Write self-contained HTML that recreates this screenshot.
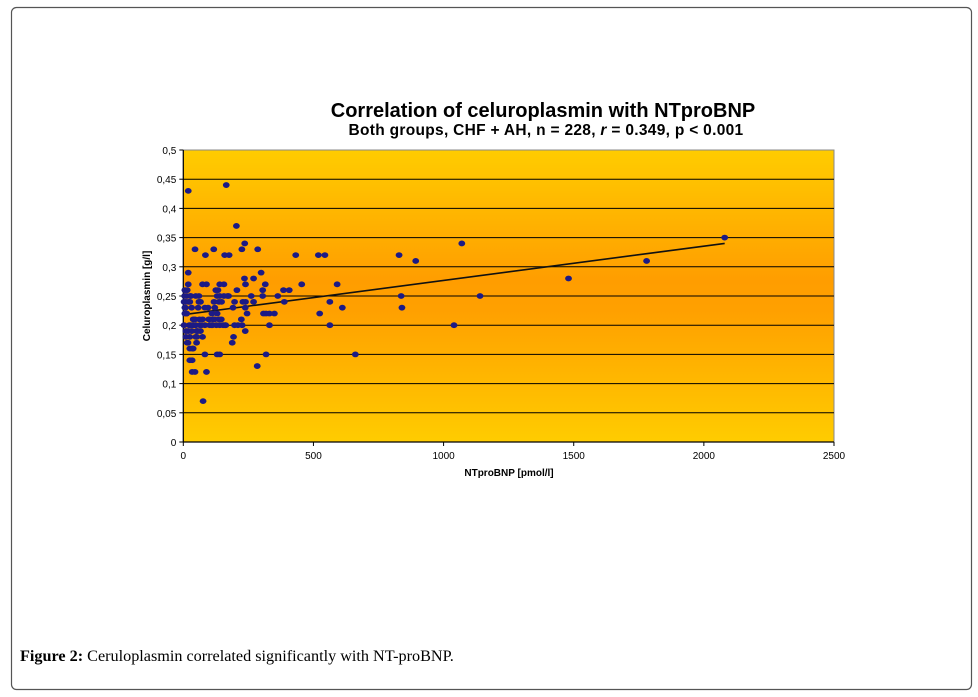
<!DOCTYPE html>
<html><head><meta charset="utf-8"><style>
body{margin:0;background:#fff;}
svg{display:block;font-family:"Liberation Sans",Arial,sans-serif;}
</style></head><body>
<svg id="chart" width="978" height="697" viewBox="0 0 978 697" xmlns="http://www.w3.org/2000/svg">
<defs>
<linearGradient id="bg" x1="0" y1="0" x2="0" y2="1">
<stop offset="0" stop-color="#FFCC00"/>
<stop offset="0.45" stop-color="#FF9D00"/>
<stop offset="0.55" stop-color="#FFA000"/>
<stop offset="1" stop-color="#FFCC00"/>
</linearGradient>
</defs>
<rect x="11.5" y="7.5" width="960" height="682" rx="5" fill="#fff" stroke="#555" stroke-width="1.2"/>
<text x="543" y="117" text-anchor="middle" font-size="20" font-weight="bold">Correlation of celuroplasmin with NTproBNP</text>
<text x="546" y="135" text-anchor="middle" font-size="15.5" font-weight="bold" letter-spacing="0.3">Both groups, CHF + AH,  n = 228, <tspan font-style="italic">r</tspan> = 0.349, p &lt; 0.001</text>
<rect x="183.3" y="150" width="650.7" height="292" fill="url(#bg)" stroke="#888" stroke-width="1"/>
<g id="grid"></g>
<g id="axes"></g>
<g id="trend"></g>
<g id="points"></g>
<text transform="translate(150,296) rotate(-90)" text-anchor="middle" font-size="10" font-weight="bold">Celuroplasmin [g/l]</text>
<text x="509" y="476" text-anchor="middle" font-size="10" font-weight="bold">NTproBNP [pmol/l]</text>
<text x="20" y="661" font-size="16.2" font-family="'Liberation Serif',serif"><tspan font-weight="bold">Figure 2:</tspan> Ceruloplasmin correlated significantly with NT-proBNP.</text>
</svg>
<script>
const yTicks=[0,0.05,0.1,0.15,0.2,0.25,0.3,0.35,0.4,0.45,0.5];
const yTickLabels=["0","0,05","0,1","0,15","0,2","0,25","0,3","0,35","0,4","0,45","0,5"];
const xTicks=[0,500,1000,1500,2000,2500];
const xTickLabels=["0","500","1000","1500","2000","2500"];
const ntprobnp=[19,165,204,45,117,85,159,176,225,236,286,432,519,544,829,893,2080,1070,1780,1480,1140,1040,
19,299,19,74,89,140,156,239,315,455,591,235,270,6,125,206,305,385,407,
13,29,48,60,130,140,156,174,261,305,363,837,10,25,66,118,137,197,229,239,270,388,563,
6,32,57,83,121,191,238,611,840,6,13,130,245,308,318,331,350,524,38,74,98,114,137,146,223,
23,36,48,64,83,102,112,127,140,153,163,197,210,226,331,563,19,32,51,66,238,10,25,48,74,193,
15,51,188,25,38,83,130,140,318,661,25,34,284,34,45,89,76,
3,5,8,12,15,20,27,40,45,55,62,100,108,120,133,147,160,170,28,60,95,110,3,10,18,35,52,70];
const ceruloplasmin=[0.43,0.44,0.37,0.33,0.33,0.32,0.32,0.32,0.33,0.34,0.33,0.32,0.32,0.32,0.32,0.31,0.35,0.34,0.31,0.28,0.25,0.20,
0.29,0.29,0.27,0.27,0.27,0.27,0.27,0.27,0.27,0.27,0.27,0.28,0.28,0.26,0.26,0.26,0.26,0.26,0.26,
0.25,0.25,0.25,0.25,0.25,0.25,0.25,0.25,0.25,0.25,0.25,0.25,0.24,0.24,0.24,0.24,0.24,0.24,0.24,0.24,0.24,0.24,0.24,
0.23,0.23,0.23,0.23,0.23,0.23,0.23,0.23,0.23,0.22,0.22,0.22,0.22,0.22,0.22,0.22,0.22,0.22,0.21,0.21,0.21,0.21,0.21,0.21,0.21,
0.20,0.20,0.20,0.20,0.20,0.20,0.20,0.20,0.20,0.20,0.20,0.20,0.20,0.20,0.20,0.20,0.19,0.19,0.19,0.19,0.19,0.18,0.18,0.18,0.18,0.18,
0.17,0.17,0.17,0.16,0.16,0.15,0.15,0.15,0.15,0.15,0.14,0.14,0.13,0.12,0.12,0.12,0.07,
0.24,0.25,0.23,0.22,0.26,0.24,0.25,0.20,0.21,0.19,0.21,0.21,0.20,0.21,0.26,0.24,0.20,0.25,0.20,0.24,0.23,0.22,0.20,0.19,0.17,0.16,0.18,0.20];
const trendX=[0,2080];
const trendY=[0.218,0.340];

const NS="http://www.w3.org/2000/svg";
const L=183.3,R=834,T=150,B=442;
function sx(v){return L+(v/2500)*(R-L);}
function sy(v){return B-(v/0.5)*(B-T);}
function mk(tag,attrs,parent){const e=document.createElementNS(NS,tag);for(const k in attrs)e.setAttribute(k,attrs[k]);parent.appendChild(e);return e;}
const grid=document.getElementById('grid'),axes=document.getElementById('axes');
yTicks.forEach((t,i)=>{
  const y=sy(t);
  if(t>0&&t<0.5){const g=mk('line',{x1:L,x2:R,y1:y,y2:y,stroke:'#000','stroke-width':1},grid);
  
  }
  const tk=mk('line',{x1:L-4,x2:L,y1:y,y2:y,stroke:'#000'},axes);
  
  
  const tx=mk('text',{x:L-7,y:y+4,'text-anchor':'end','font-size':10},axes);
  tx.textContent=yTickLabels[i];
  
  
});
xTicks.forEach((t,i)=>{
  const x=sx(t);
  const tk=mk('line',{x1:x,x2:x,y1:B,y2:B+4,stroke:'#000'},axes);
  
  
  const tx=mk('text',{x:x,y:B+17,'text-anchor':'middle','font-size':10},axes);
  tx.textContent=xTickLabels[i];
  
  
});
const ya=mk('line',{x1:L,x2:L,y1:T,y2:B,stroke:'#000','stroke-width':1.2},axes);


const xa=mk('line',{x1:L,x2:R,y1:B,y2:B,stroke:'#000','stroke-width':1.2},axes);


const tl=mk('line',{x1:sx(trendX[0]),y1:sy(trendY[0]),x2:sx(trendX[1]),y2:sy(trendY[1]),stroke:'#111','stroke-width':1.6},document.getElementById('trend'));


const pg=document.getElementById('points');
ntprobnp.forEach((v,i)=>{
  const c=mk('ellipse',{cx:sx(v),cy:sy(ceruloplasmin[i]),rx:3.4,ry:2.9,fill:'#1c1a85'},pg);
  
  
});
</script>
</body></html>
